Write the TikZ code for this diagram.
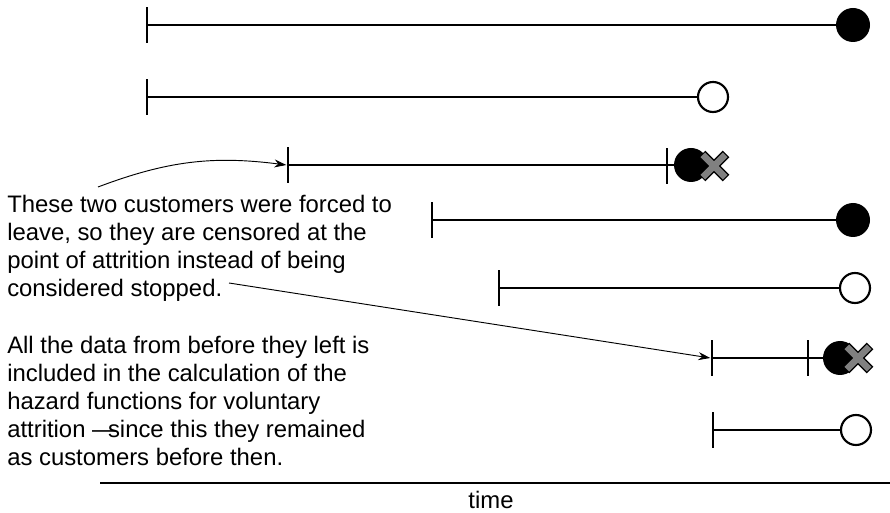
\documentclass[tikz,border=0pt]{standalone}
\usepackage{fontspec}
\setmainfont{Liberation Sans}
\usetikzlibrary{arrows.meta}

\begin{document}
\begin{tikzpicture}[
    x=0.75pt, y=-0.75pt,
    tickmark/.style={rectangle, fill=black, inner sep=0pt, minimum width=2.1pt, minimum height=27pt},
    span/.style={line width=1.6pt},
    stopped/.style={circle, fill=black, inner sep=0pt, minimum size=25.5pt},
    censored/.style={circle, draw=black, line width=1.6pt, fill=white, inner sep=0pt, minimum size=22.5pt},
    xouter/.style={line width=7pt, black},
    xinner/.style={line width=5pt, gray},
    note/.style={anchor=north west, inner sep=0pt, align=left, font=\fontsize{17.9}{21}\selectfont},
    pointer/.style={-{Stealth[length=9pt, width=6pt]}, line width=0.7pt}
]
\useasboundingbox (0,0) rectangle (890,513);

% Customers
\node[tickmark] (s1) at (147,25) {};
\node[stopped] (e1) at (853,25) {};
\draw[span] (s1.center) -- (e1);

\node[tickmark] (s2) at (147,97) {};
\node[censored] (e2) at (713,97) {};
\draw[span] (s2.center) -- (e2);

\node[tickmark] (s3) at (288,165) {};
\node[tickmark] (t3) at (667,166) {};
\node[stopped] (e3) at (691,165) {};
\draw[span] (s3.center) -- (e3);

\node[tickmark] (s4) at (432,220) {};
\node[stopped] (e4) at (853,220) {};
\draw[span] (s4.center) -- (e4);

\node[tickmark] (s5) at (499,288) {};
\node[censored] (e5) at (855,288) {};
\draw[span] (s5.center) -- (e5);

\node[tickmark] (s6) at (712,358) {};
\node[tickmark] (t6) at (808,358) {};
\node[stopped] (e6) at (840,358) {};
\draw[span] (s6.center) -- (e6);

\node[tickmark] (s7) at (713,430) {};
\node[censored] (e7) at (856,430) {};
\draw[span] (s7.center) -- (e7);

% Forced leavers
\coordinate (x3) at (714,166);
\coordinate (x6) at (858,358);
\foreach \c in {x3,x6} {
  \draw[xouter] ([shift={(-12,-12)}]\c) -- ([shift={(12,12)}]\c);
  \draw[xouter] ([shift={(-12,12)}]\c) -- ([shift={(12,-12)}]\c);
  \draw[xinner] ([shift={(-11.2,-11.2)}]\c) -- ([shift={(11.2,11.2)}]\c);
  \draw[xinner] ([shift={(-11.2,11.2)}]\c) -- ([shift={(11.2,-11.2)}]\c);
}

% Notes
\node[note] (forced) at (7,195) {These two customers were forced to\\leave, so they are censored at the\\point of attrition instead of being\\considered stopped.};
\node[note] (included) at (7,336) {All the data from before they left is\\included in the calculation of the\\hazard functions for voluntary\\attrition \textemdash\kern-6pt since this they remained\\as customers before then.};

\coordinate (from1) at (98,187);
\coordinate (from2) at (229,283);
\draw[pointer] (from1) to[bend left=14] (s3.west);
\draw[pointer] (from2) -- (s6.west);

% Time axis
\coordinate (ax0) at (100,483);
\coordinate (ax1) at (890,483);
\draw[line width=0.9pt] (ax0) -- (ax1);
\node[font=\fontsize{17.9}{21}\selectfont] (time) at (491,500) {time};
\end{tikzpicture}
\end{document}
